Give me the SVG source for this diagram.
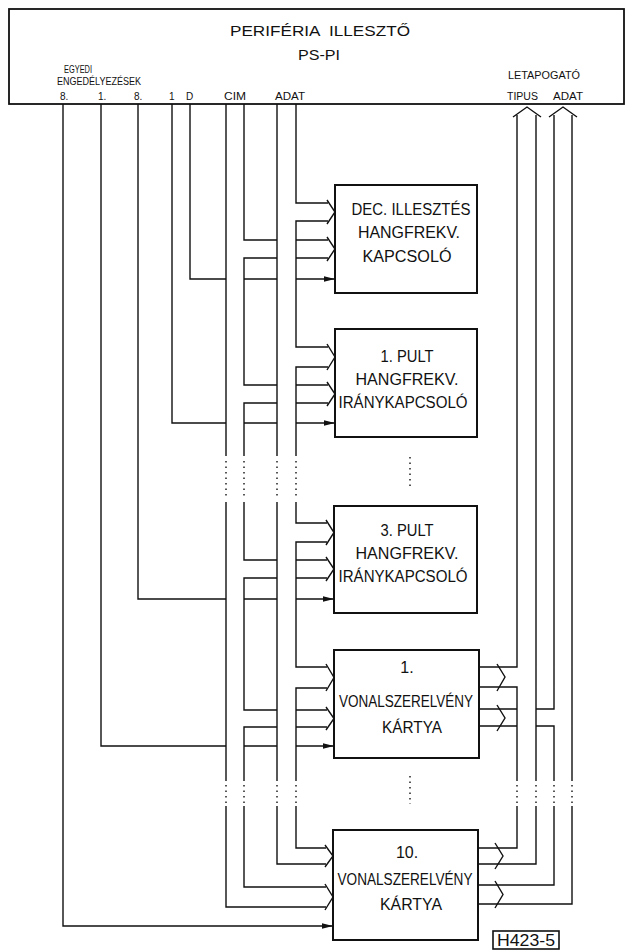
<svg xmlns="http://www.w3.org/2000/svg" width="626" height="950" viewBox="0 0 626 950">
<style>
.ln{stroke:#111;stroke-width:1.4;fill:none;stroke-linejoin:miter}
.dt{stroke:#111;stroke-width:1.4;fill:none;stroke-dasharray:1.5 4}
.bx{stroke:#111;stroke-width:2;fill:#fff}
.t{font-family:"Liberation Sans",Arial,sans-serif;fill:#111}
.s{font-size:10px}
.m{font-size:15px}
.b{font-size:16px;text-anchor:middle}
</style>
<defs>
<marker id="arr" markerUnits="userSpaceOnUse" markerWidth="11" markerHeight="7" refX="11" refY="3.5" orient="auto">
<path d="M0,0.8 L11,3.5 L0,6.2 z" fill="#111"/>
</marker>
</defs>
<rect width="626" height="950" fill="#fff"/>

<g id="periferia">
<rect class="bx" x="9" y="9" width="615" height="95" style="stroke-width:1.8"/>
<text class="t m" x="230" y="36" textLength="180" lengthAdjust="spacingAndGlyphs" xml:space="preserve">PERIFÉRIA  ILLESZTŐ</text>
<text class="t m" x="298" y="60" textLength="42" lengthAdjust="spacingAndGlyphs">PS-PI</text>
<text class="t s" x="64" y="73" textLength="28" lengthAdjust="spacingAndGlyphs">EGYEDI</text>
<text class="t s" x="57" y="85" textLength="84" lengthAdjust="spacingAndGlyphs">ENGEDÉLYEZÉSEK</text>
<text class="t s" x="60" y="100">8.</text>
<text class="t s" x="98" y="100">1.</text>
<text class="t s" x="134" y="100">8.</text>
<text class="t s" x="169" y="100">1</text>
<text class="t s" x="186" y="100">D</text>
<text class="t s" x="224" y="100" textLength="22" lengthAdjust="spacingAndGlyphs">CIM</text>
<text class="t s" x="275" y="100" textLength="30" lengthAdjust="spacingAndGlyphs">ADAT</text>
<text class="t s" x="508" y="79" textLength="72" lengthAdjust="spacingAndGlyphs">LETAPOGATÓ</text>
<text class="t s" x="507" y="100" textLength="31" lengthAdjust="spacingAndGlyphs">TIPUS</text>
<text class="t s" x="553" y="100" textLength="30" lengthAdjust="spacingAndGlyphs">ADAT</text>
</g>

<g id="dec">
<rect class="bx" x="335" y="185" width="142" height="108"/>
<text class="t b" x="411" y="215" textLength="119" lengthAdjust="spacingAndGlyphs">DEC. ILLESZTÉS</text>
<text class="t b" x="409" y="238" textLength="102" lengthAdjust="spacingAndGlyphs">HANGFREKV.</text>
<text class="t b" x="407" y="262" textLength="89" lengthAdjust="spacingAndGlyphs">KAPCSOLÓ</text>
</g>

<g id="pult1">
<rect class="bx" x="335" y="329" width="142" height="108"/>
<text class="t b" x="407" y="362" textLength="53" lengthAdjust="spacingAndGlyphs">1. PULT</text>
<text class="t b" x="407" y="385" textLength="103" lengthAdjust="spacingAndGlyphs">HANGFREKV.</text>
<text class="t b" x="403" y="408" textLength="129" lengthAdjust="spacingAndGlyphs">IRÁNYKAPCSOLÓ</text>
</g>

<g id="pult3">
<rect class="bx" x="334" y="506" width="143" height="107"/>
<text class="t b" x="407" y="536" textLength="53" lengthAdjust="spacingAndGlyphs">3. PULT</text>
<text class="t b" x="407" y="559" textLength="103" lengthAdjust="spacingAndGlyphs">HANGFREKV.</text>
<text class="t b" x="403" y="582" textLength="129" lengthAdjust="spacingAndGlyphs">IRÁNYKAPCSOLÓ</text>
</g>

<g id="vonal1">
<rect class="bx" x="334" y="650" width="145" height="108"/>
<text class="t b" x="407" y="673">1.</text>
<text class="t b" x="406" y="707" textLength="134" lengthAdjust="spacingAndGlyphs">VONALSZERELVÉNY</text>
<text class="t b" x="412" y="733" textLength="60" lengthAdjust="spacingAndGlyphs">KÁRTYA</text>
</g>

<g id="vonal10">
<rect class="bx" x="333" y="830" width="145" height="110"/>
<text class="t b" x="407" y="858">10.</text>
<text class="t b" x="405" y="885" textLength="135" lengthAdjust="spacingAndGlyphs">VONALSZERELVÉNY</text>
<text class="t b" x="411" y="910" textLength="62" lengthAdjust="spacingAndGlyphs">KÁRTYA</text>
</g>

<g id="jel">
<rect x="493" y="931" width="66" height="18" fill="#fff" stroke="#111" stroke-width="1.6"/>
<text class="t" x="526" y="946" font-size="16" text-anchor="middle" textLength="58" lengthAdjust="spacingAndGlyphs">H423-5</text>
</g>

<g id="connectors">
<!-- single enable lines -->
<path class="ln" d="M190,104 V279 H226 M244,279 H277"/>
<path class="ln" d="M296,279 H335" marker-end="url(#arr)"/>
<path class="ln" d="M172,104 V423 H226 M244,423 H277"/>
<path class="ln" d="M296,423 H335" marker-end="url(#arr)"/>
<path class="ln" d="M138,104 V599 H226 M244,599 H277"/>
<path class="ln" d="M296,599 H334" marker-end="url(#arr)"/>
<path class="ln" d="M101,104 V746 H226 M244,746 H277"/>
<path class="ln" d="M296,746 H334" marker-end="url(#arr)"/>
<path class="ln" d="M63,104 V926 H333" marker-end="url(#arr)"/>

<!-- CIM bus -->
<path class="ln" d="M226,104 V456 M226,502 V781 M226,806 V907 H326"/>
<path class="dt" d="M226,461 V498 M226,785 V803"/>
<path class="ln" d="M244,104 V240 H277 M296,240 H328
 M277,258 H244 V385 H277 M296,258 H328
 M296,385 H328 M296,403 H328
 M277,403 H244 V456
 M244,502 V560 H277 M296,560 H327
 M277,578 H244 V710 H277 M296,578 H327
 M296,710 H327 M296,727 H327
 M277,727 H244 V781
 M244,806 V887 H326"/>
<path class="dt" d="M244,461 V498 M244,785 V803"/>

<!-- ADAT bus -->
<path class="ln" d="M277,104 V456 M277,502 V781 M277,806 V864 H326"/>
<path class="dt" d="M277,461 V498 M277,785 V803"/>
<path class="ln" d="M296,104 V203 H328
 M328,221 H296 V347 H328
 M328,367 H296 V456
 M296,502 V523 H327
 M327,542 H296 V667 H327
 M327,688 H296 V781
 M296,806 V848 H326"/>
<path class="dt" d="M296,461 V498 M296,785 V803"/>

<!-- input bus chevrons -->
<path class="ln" d="M327,200 L335,212 L327,224 M327,237 L335,249 L327,261
 M327,344 L335,357 L327,370 M327,382 L335,394 L327,406
 M326,520 L334,532.5 L326,545 M326,557 L334,569 L326,581
 M326,664 L334,677.5 L326,691 M326,707 L334,718.5 L326,730
 M325,845 L333,856 L325,867 M325,884 L333,897 L325,910"/>

<!-- LETAPOGATO: TIPUS and ADAT buses (right) -->
<path class="ln" d="M479,667 H517 V115
 M479,687 H517 V781 M517,806 V848 H478
 M536,115 V781 M536,806 V864 H478
 M479,709 H517 M536,709 H554 V115
 M479,726 H517 M536,726 H554 V781 M554,806 V885 H478
 M572,115 V781 M572,806 V904 H478"/>
<path class="dt" d="M517,785 V803 M536,785 V803 M554,785 V803 M572,785 V803"/>

<!-- output chevrons -->
<path class="ln" d="M497,664 L505,677 L497,691 M497,705 L505,718 L497,731
 M495,843 L503,856 L495,869 M495,881 L503,894.5 L495,908"/>
<!-- chevrons at the top box -->
<path class="ln" d="M513,117 L527,107 L541,117 M549,117 L563,107 L577,117"/>

<!-- continuation dots between blocks -->
<path class="dt" d="M410,457 V490 M410,776 V804"/>
</g>
</svg>
